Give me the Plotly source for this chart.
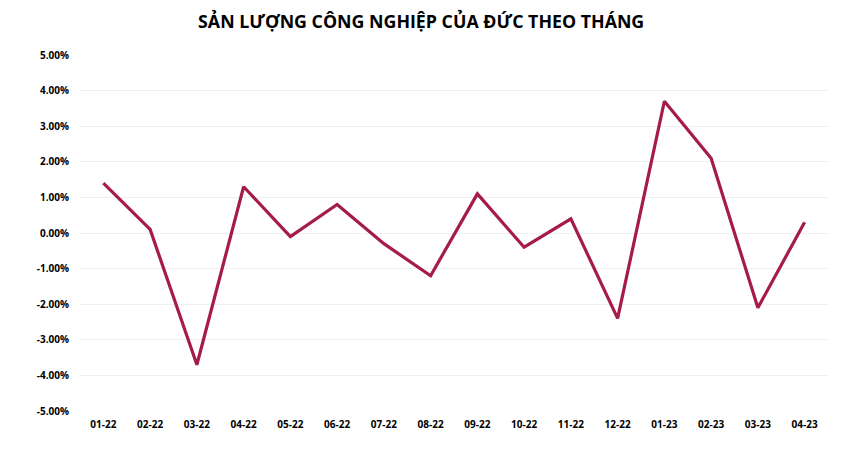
import plotly.graph_objects as go

months = ['01-22', '02-22', '03-22', '04-22', '05-22', '06-22', '07-22', '08-22',
          '09-22', '10-22', '11-22', '12-22', '01-23', '02-23', '03-23', '04-23']
change_pct = [1.4, 0.1, -3.7, 1.3, -0.1, 0.8, -0.3, -1.2,
              1.1, -0.4, 0.4, -2.4, 3.7, 2.1, -2.1, 0.3]
y_ticks = [5, 4, 3, 2, 1, 0, -1, -2, -3, -4, -5]

fig = go.Figure()
fig.add_trace(go.Scatter(x=months, y=change_pct, mode='lines',
                         line=dict(color='#A51C48', width=3.2)))

fig.update_layout(
    width=859, height=456,
    margin=dict(l=72, r=39, t=47, b=53),
    paper_bgcolor='white', plot_bgcolor='white',
    showlegend=False,
    font=dict(family='Open Sans', color='black'),
    title=dict(text='<b>SẢN LƯỢNG CÔNG NGHIỆP CỦA ĐỨC THEO THÁNG</b>',
               x=0.481, xanchor='center', y=0.969, yanchor='middle',
               font=dict(size=17.8, color='black')),
)
fig.update_xaxes(type='category', range=[-0.5, len(months) - 0.5],
                 showgrid=False, showline=False, zeroline=False,
                 ticks='', tickfont=dict(size=10, family='Open Sans', weight='bold'),
                 ticklabelstandoff=6)
fig.update_yaxes(range=[-5, 5], tickvals=y_ticks,
                 ticktext=[f'{v:.2f}%' for v in y_ticks],
                 showgrid=True, gridcolor='#F0F0F0', gridwidth=1,
                 zeroline=False, showline=False, ticks='',
                 tickfont=dict(size=10, family='Open Sans', weight='bold'),
                 ticklabelstandoff=10)

fig.write_html('out.html')
